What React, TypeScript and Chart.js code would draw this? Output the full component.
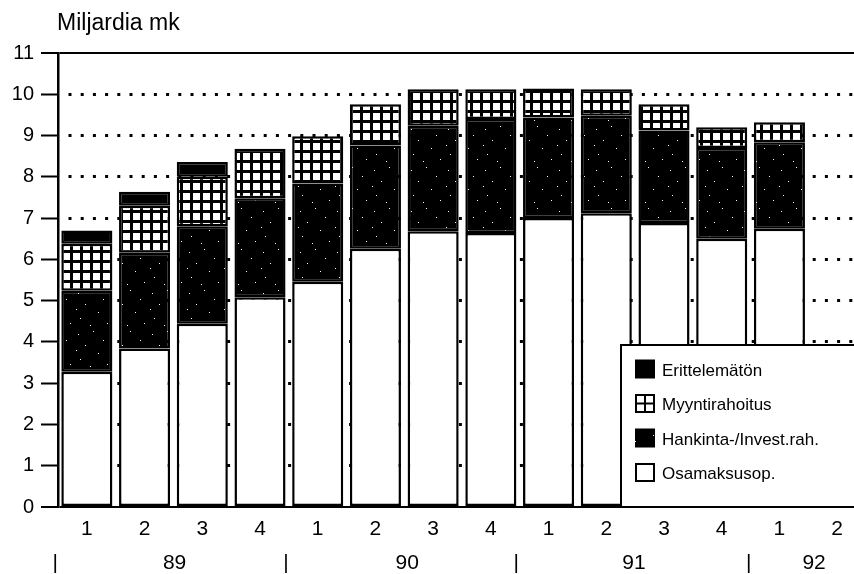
import React, { useEffect, useRef } from "react";
import { Chart, registerables } from "chart.js";

Chart.register(...registerables);

const titleText = "Miljardia mk";
const quarterLabels = ["1", "2", "3", "4", "1", "2", "3", "4", "1", "2", "3", "4", "1", "2"];
const osamaksusop = [3.28, 3.84, 4.44, 5.08, 5.46, 6.26, 6.68, 6.64, 7.0, 7.12, 6.88, 6.5, 6.74];
const hankinta = [1.96, 2.32, 2.36, 2.4, 2.38, 2.5, 2.56, 2.76, 2.44, 2.36, 2.24, 2.2, 2.1];
const myyntirahoitus = [1.14, 1.14, 1.2, 1.2, 1.14, 1.0, 0.88, 0.72, 0.7, 0.64, 0.64, 0.5, 0.48];
const erittelematon = [0.32, 0.34, 0.36, 0, 0, 0, 0, 0, 0, 0, 0, 0, 0];
const seriesLabels = ["Osamaksusop.", "Hankinta-/Invest.rah.", "Myyntirahoitus", "Erittelemätön"];
const yearTickPositions = [-0.55, 1.52, 3.45, 5.55, 7.44, 9.48, 11.47, 12.6];
const yearTickLabels = ["|", "89", "|", "90", "|", "91", "|", "92"];
const yMin = 0;
const yMax = 11;

const FONT = '"Liberation Sans", Arial, Helvetica, sans-serif';

function makeGridPattern(ctx: CanvasRenderingContext2D) {
  const c = document.createElement("canvas");
  c.width = 10;
  c.height = 10;
  const g = c.getContext("2d")!;
  g.fillStyle = "#000";
  g.fillRect(0, 0, 10, 10);
  g.fillStyle = "#fff";
  g.fillRect(3, 3, 7, 7);
  return ctx.createPattern(c, "repeat")!;
}

function makeSpecklePattern(ctx: CanvasRenderingContext2D) {
  const c = document.createElement("canvas");
  c.width = 37;
  c.height = 41;
  const g = c.getContext("2d")!;
  g.fillStyle = "#000";
  g.fillRect(0, 0, 37, 41);
  g.fillStyle = "#fff";
  const specks = [
    [4, 6], [19, 3], [29, 12], [11, 17], [24, 25], [6, 31], [33, 36], [16, 38], [2, 22],
  ];
  specks.forEach(([x, y]) => g.fillRect(x, y, 1, 1));
  return ctx.createPattern(c, "repeat")!;
}

const overlayPlugin = {
  id: "overlay",
  afterDatasetsDraw(chart: any) {
    const { ctx, chartArea, scales } = chart;
    const bottom = scales.y.getPixelForValue(0);
    const left = 621;
    const top = 345;
    const right = chartArea.right + 10;
    ctx.save();
    ctx.fillStyle = "#fff";
    ctx.fillRect(left, top, right - left, bottom - top);
    ctx.strokeStyle = "#000";
    ctx.lineWidth = 2;
    ctx.strokeRect(left, top, right - left, bottom - top);

    const ds = chart.data.datasets;
    const order = [3, 2, 1, 0];
    const sx = 635;
    const sw = 20;
    const sh = 19;
    order.forEach((di, row) => {
      const cy = 369 + row * 34.5;
      const sy = cy - sh / 2;
      if (di === 0) {
        ctx.fillStyle = "#fff";
        ctx.fillRect(sx, sy, sw, sh);
        ctx.lineWidth = 2;
        ctx.strokeRect(sx + 1, sy + 1, sw - 2, sh - 2);
      } else if (di === 2) {
        ctx.fillStyle = "#fff";
        ctx.fillRect(sx, sy, sw, sh);
        ctx.lineWidth = 2;
        ctx.strokeRect(sx + 1, sy + 1, sw - 2, sh - 2);
        ctx.beginPath();
        ctx.moveTo(sx + sw / 2, sy);
        ctx.lineTo(sx + sw / 2, sy + sh);
        ctx.moveTo(sx, sy + sh / 2);
        ctx.lineTo(sx + sw, sy + sh / 2);
        ctx.stroke();
      } else {
        ctx.fillStyle = ds[di].backgroundColor;
        ctx.fillRect(sx, sy, sw, sh);
      }
      ctx.fillStyle = "#000";
      ctx.font = `17px ${FONT}`;
      ctx.textBaseline = "middle";
      ctx.textAlign = "left";
      ctx.fillText(ds[di].label, sx + sw + 7, cy + 2);
    });
    ctx.restore();
  },
  afterDraw(chart: any) {
    const { ctx, chartArea } = chart;
    ctx.save();
    ctx.fillStyle = "#000";
    ctx.font = `23px ${FONT}`;
    ctx.textBaseline = "alphabetic";
    ctx.textAlign = "left";
    ctx.fillText(titleText, chartArea.left - 1, 30);
    ctx.restore();
  },
};

export default function App() {
  const canvasRef = useRef<HTMLCanvasElement | null>(null);

  useEffect(() => {
    const canvas = canvasRef.current;
    if (!canvas) return;
    const ctx = canvas.getContext("2d")!;
    const gridPattern = makeGridPattern(ctx);
    const specklePattern = makeSpecklePattern(ctx);

    const common = {
      borderColor: "#000",
      borderWidth: 2.5,
      borderSkipped: false,
      barPercentage: 0.885,
      categoryPercentage: 1,
      xAxisID: "x",
      yAxisID: "y",
    };

    const chart = new Chart(canvas, {
      type: "bar",
      data: {
        labels: quarterLabels,
        datasets: [
          { ...common, label: seriesLabels[0], data: osamaksusop, backgroundColor: "#fff" },
          { ...common, label: seriesLabels[1], data: hankinta, backgroundColor: specklePattern },
          { ...common, label: seriesLabels[2], data: myyntirahoitus, backgroundColor: gridPattern },
          { ...common, label: seriesLabels[3], data: erittelematon, backgroundColor: "#000" },
        ] as any,
      },
      options: {
        responsive: false,
        animation: false,
        layout: { padding: { left: 0, top: 53, right: 4, bottom: 16 } },
        plugins: {
          legend: { display: false },
          title: { display: false },
          tooltip: { enabled: false },
        },
        scales: {
          x: {
            stacked: true,
            offset: true,
            weight: 0,
            grid: { display: false, drawTicks: false },
            border: { display: false },
            ticks: {
              color: "#000",
              font: { family: FONT, size: 21 },
              padding: 10,
              autoSkip: false,
              maxRotation: 0,
            },
            afterFit: (s: any) => {
              s.height = 43;
            },
          },
          x2: {
            type: "linear",
            position: "bottom",
            weight: 1,
            offset: false,
            min: -0.5,
            max: 13.5,
            grid: { display: false, drawTicks: false, offset: false },
            border: { display: false },
            ticks: {
              color: "#000",
              font: { family: FONT, size: 21 },
              padding: 1,
              autoSkip: false,
              maxRotation: 0,
              callback: (_v: any, i: number) => yearTickLabels[i],
            },
            afterBuildTicks: (s: any) => {
              s.ticks = yearTickPositions.map((v) => ({ value: v }));
            },
            afterFit: (s: any) => {
              s.height = 24;
            },
          },
          y: {
            stacked: true,
            min: yMin,
            max: yMax,
            ticks: {
              stepSize: 1,
              color: "#000",
              font: { family: FONT, size: 20 },
              padding: 7,
            },
            grid: {
              color: "#000",
              lineWidth: (c: any) =>
                c.tick && (c.tick.value === yMin || c.tick.value === yMax) ? 2 : 3,
              tickColor: "#000",
              tickWidth: 2,
              tickLength: 17,
              tickBorderDash: [],
            },
            border: {
              display: true,
              color: "#000",
              width: 2.5,
              dash: (c: any) =>
                c.tick && c.tick.value > yMin && c.tick.value < yMax ? [3, 9.2] : [],
              dashOffset: 3.2,
            },
            afterFit: (s: any) => {
              s.width = 58;
            },
          },
        } as any,
      },
      plugins: [overlayPlugin],
    });

    return () => {
      chart.destroy();
    };
  }, []);

  return (
    <div
      style={{
        position: "fixed",
        left: 0,
        top: 0,
        width: 854,
        height: 574,
        overflow: "hidden",
        background: "#fff",
      }}
    >
      <canvas ref={canvasRef} width={870} height={590} style={{ display: "block" }} />
    </div>
  );
}
